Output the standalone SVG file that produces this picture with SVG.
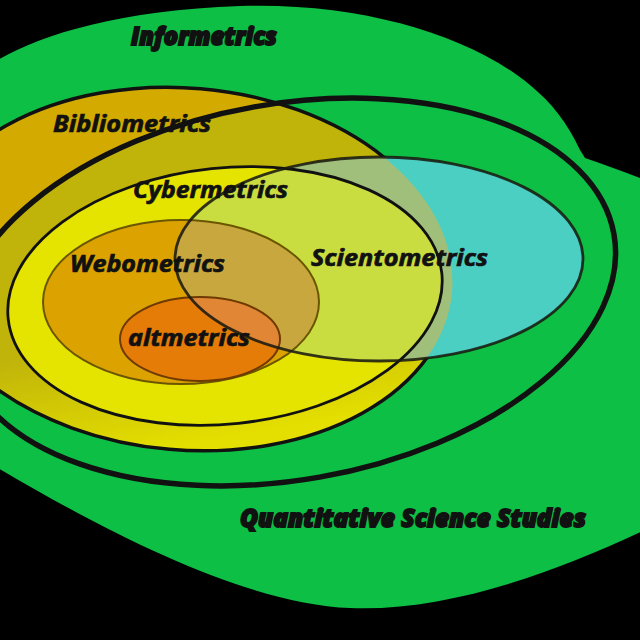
<svg xmlns="http://www.w3.org/2000/svg" width="640" height="640" viewBox="0 0 640 640">
<style>
  .lbl{font-family:"Open Sans","Noto Sans","DejaVu Sans",sans-serif;font-style:italic;font-weight:700;font-size:24px;fill:#111;stroke:#111;stroke-width:0.7px}
  .heavy{font-weight:800;stroke-width:1.8px}
  .edge{fill:none;stroke:#111}
</style>
<defs>
  <clipPath id="clipB"><ellipse cx="185" cy="269" rx="268" ry="181" transform="rotate(5 185 269)"/></clipPath>
  <clipPath id="clipS"><ellipse cx="379" cy="259" rx="204" ry="102"/></clipPath>
  <clipPath id="clipC"><ellipse cx="225" cy="296" rx="218" ry="128" transform="rotate(-6 225 296)"/></clipPath>
  <clipPath id="clipW"><ellipse cx="181" cy="302" rx="138" ry="82"/></clipPath>
  <clipPath id="clipA"><ellipse cx="200" cy="339" rx="80" ry="42"/></clipPath>
  <linearGradient id="gBib" gradientUnits="userSpaceOnUse" x1="0" y1="310" x2="0" y2="425">
    <stop offset="0" stop-color="#c0b30a"/>
    <stop offset="1" stop-color="#e4df00"/>
  </linearGradient>
</defs>
<rect width="640" height="640" fill="#000"/>

<g id="field-informetrics-qss">
  <path fill="#0dbf45" d="M -2,60 C 40,35 120,10 240,6 C 360,2 470,35 530,85 C 552,103 568,124 580,150 L 585,158 C 605,165 625,172 645,180 L 645,530 C 560,570 450,612 350,608 C 250,604 120,540 -2,468 Z"/>
</g>

<g id="bibliometrics-fill">
  <ellipse cx="185" cy="269" rx="268" ry="181" transform="rotate(5 185 269)" fill="#d2aa00"/>
  <g clip-path="url(#clipB)">
    <ellipse cx="287" cy="292" rx="332" ry="188" transform="rotate(-10 287 292)" fill="url(#gBib)"/>
  </g>
  <ellipse class="edge" cx="185" cy="269" rx="268" ry="181" transform="rotate(5 185 269)" stroke-width="3.5"/>
</g>

<g id="informetrics-ring">
  <ellipse class="edge" cx="287" cy="292" rx="332" ry="188" transform="rotate(-10 287 292)" stroke-width="5.5"/>
</g>

<g id="scientometrics-fill">
  <ellipse cx="379" cy="259" rx="204" ry="102" fill="#4ccfc3"/>
  <ellipse cx="379" cy="259" rx="204" ry="102" fill="#a0bf7a" clip-path="url(#clipB)"/>
</g>

<g id="cybermetrics">
  <ellipse cx="225" cy="296" rx="218" ry="128" transform="rotate(-6 225 296)" fill="#e5e300"/>
  <ellipse cx="379" cy="259" rx="204" ry="102" fill="#c9dc40" clip-path="url(#clipC)"/>
  <ellipse class="edge" cx="225" cy="296" rx="218" ry="128" transform="rotate(-6 225 296)" stroke="#1c1c08" stroke-width="2.8"/>
</g>

<g id="webometrics">
  <ellipse cx="181" cy="302" rx="138" ry="82" fill="#dca300"/>
  <ellipse cx="379" cy="259" rx="204" ry="102" fill="#c8a83e" clip-path="url(#clipW)"/>
  <ellipse cx="181" cy="302" rx="138" ry="82" fill="none" stroke="#6a5600" stroke-width="2"/>
</g>

<g id="altmetrics">
  <ellipse cx="200" cy="339" rx="80" ry="42" fill="#e67c08"/>
  <ellipse cx="379" cy="259" rx="204" ry="102" fill="#e08634" clip-path="url(#clipA)"/>
  <ellipse cx="200" cy="339" rx="80" ry="42" fill="none" stroke="#6e3a00" stroke-width="2"/>
</g>

<g id="scientometrics">
  <ellipse cx="379" cy="259" rx="204" ry="102" fill="none" stroke="#1a1a10" stroke-opacity="0.88" stroke-width="2.8"/>
</g>

<g id="labels">
  <text class="lbl heavy" x="131" y="45" textLength="146" lengthAdjust="spacingAndGlyphs">Informetrics</text>
  <text class="lbl" x="53" y="132" textLength="158" lengthAdjust="spacingAndGlyphs">Bibliometrics</text>
  <text class="lbl" x="133" y="198" textLength="155" lengthAdjust="spacingAndGlyphs">Cybermetrics</text>
  <text class="lbl" x="70" y="272" textLength="155" lengthAdjust="spacingAndGlyphs">Webometrics</text>
  <text class="lbl" x="311" y="266" textLength="177" lengthAdjust="spacingAndGlyphs">Scientometrics</text>
  <text class="lbl" x="128" y="346" textLength="122" lengthAdjust="spacingAndGlyphs">altmetrics</text>
  <text class="lbl heavy" x="240" y="527" textLength="346" lengthAdjust="spacingAndGlyphs">Quantitative Science Studies</text>
</g>
</svg>
